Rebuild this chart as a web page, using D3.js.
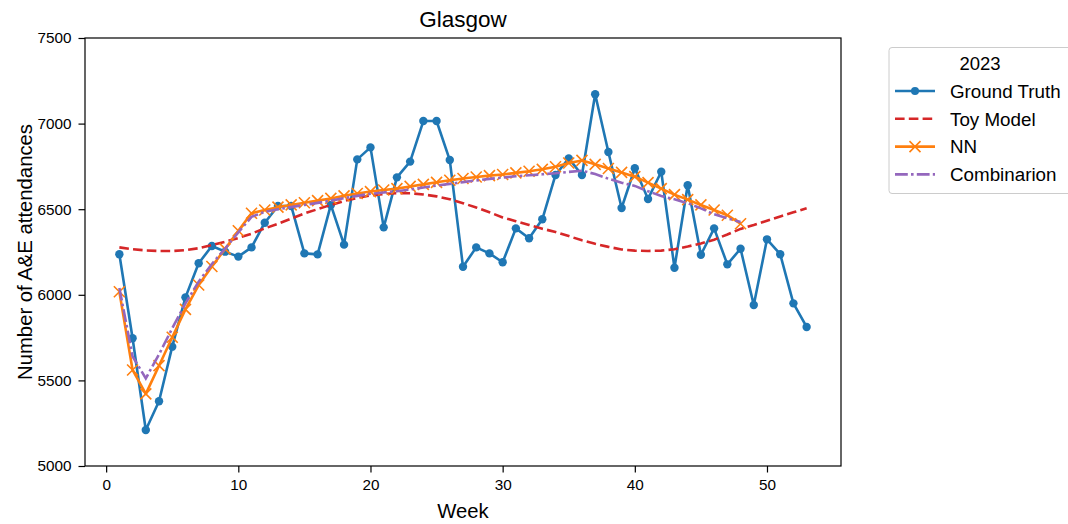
<!DOCTYPE html>
<html>
<head>
<meta charset="utf-8">
<script src="https://cdn.jsdelivr.net/npm/d3@7"></script>
<style>
  body { margin: 0; background: white; }
  text { font-family: "Liberation Sans", Arial, sans-serif; fill: black; }
</style>
</head>
<body>
<div id="viz"></div>
<script>
var width = 1068
var height = 524
var margin = {left: 85, right: 227, top: 38, bottom: 58}

// weekly values
var weeks = d3.range(1, 54)
var groundTruth = [6237, 5746, 5210, 5378, 5697, 5985, 6184, 6285, 6252, 6223,
    6277, 6421, 6519, 6519, 6242, 6236, 6525, 6293, 6791, 6861,
    6394, 6686, 6778, 7015, 7015, 6787, 6164, 6277, 6242, 6190,
    6388, 6330, 6441, 6700, 6797, 6700, 7171, 6834, 6507, 6739,
    6560, 6719, 6158, 6640, 6234, 6388, 6178, 6269, 5940, 6324,
    6237, 5950, 5812]
var toyModel = [6277, 6266, 6259, 6256, 6256, 6261, 6272, 6290, 6310, 6332,
    6357, 6388, 6415, 6445, 6475, 6500, 6525, 6548, 6566, 6580,
    6589, 6593, 6593, 6586, 6575, 6558, 6535, 6510, 6482, 6452,
    6430, 6408, 6386, 6367, 6343, 6318, 6298, 6280, 6265, 6258,
    6256, 6258, 6266, 6282, 6300, 6322, 6352, 6385, 6408, 6433,
    6458, 6482, 6505]
var nn = [6018, 5561, 5421, 5586, 5752, 5915, 6057, 6165, 6268, 6374,
    6476, 6495, 6512, 6525, 6538, 6550, 6563, 6578, 6592, 6603,
    6612, 6620, 6633, 6645, 6657, 6669, 6679, 6688, 6696, 6703,
    6712, 6722, 6733, 6748, 6770, 6785, 6762, 6738, 6715, 6690,
    6655, 6620, 6585, 6556, 6525, 6495, 6465, 6415]
var combination = [6040, 5640, 5512, 5652, 5804, 5950, 6077, 6180, 6270, 6365,
    6455, 6485, 6500, 6512, 6525, 6537, 6550, 6565, 6578, 6590,
    6598, 6605, 6615, 6627, 6638, 6648, 6658, 6668, 6677, 6685,
    6692, 6698, 6704, 6710, 6718, 6725, 6705, 6678, 6655, 6636,
    6605, 6577, 6558, 6535, 6505, 6470, 6447, 6425]
var xTicks = [0, 10, 20, 30, 40, 50]
var yTicks = [5000, 5500, 6000, 6500, 7000, 7500]

var svg = d3.select("#viz").append("svg")
    .attr("width", width)
    .attr("height", height)

var x = d3.scaleLinear().domain([-1.6, 55.6]).range([margin.left, width - margin.right])
var y = d3.scaleLinear().domain([5000, 7500]).range([height - margin.bottom, margin.top])

function toPoints(vals) {
    return vals.map(function (v, i) { return [weeks[i], v] })
}

var line = d3.line().x(function (d) { return x(d[0]) }).y(function (d) { return y(d[1]) })

var plot = svg.append("g")
plot.append("defs").append("clipPath").attr("id", "clip")
    .append("rect")
    .attr("x", margin.left).attr("y", margin.top)
    .attr("width", width - margin.left - margin.right)
    .attr("height", height - margin.top - margin.bottom)

var series = plot.append("g").attr("clip-path", "url(#clip)")

// ground truth
series.append("path")
    .attr("d", line(toPoints(groundTruth)))
    .attr("fill", "none")
    .attr("stroke", "#1f77b4")
    .attr("stroke-width", 2.6)
    .attr("stroke-linejoin", "round")
series.selectAll("circle.gt").data(toPoints(groundTruth)).enter()
    .append("circle")
    .attr("class", "gt")
    .attr("cx", function (d) { return x(d[0]) })
    .attr("cy", function (d) { return y(d[1]) })
    .attr("r", 4.2)
    .attr("fill", "#1f77b4")

// toy model
series.append("path")
    .attr("d", line(toPoints(toyModel)))
    .attr("fill", "none")
    .attr("stroke", "#d62728")
    .attr("stroke-width", 2.6)
    .attr("stroke-dasharray", "9.6,4.2")

// NN
series.append("path")
    .attr("d", line(toPoints(nn)))
    .attr("fill", "none")
    .attr("stroke", "#ff7f0e")
    .attr("stroke-width", 2.6)
    .attr("stroke-linejoin", "round")
var ms = 5.5
series.selectAll("path.nnx").data(toPoints(nn)).enter()
    .append("path")
    .attr("class", "nnx")
    .attr("d", function (d) {
        var cx = x(d[0]), cy = y(d[1])
        return "M" + (cx - ms) + "," + (cy - ms) + "L" + (cx + ms) + "," + (cy + ms) +
            "M" + (cx - ms) + "," + (cy + ms) + "L" + (cx + ms) + "," + (cy - ms)
    })
    .attr("stroke", "#ff7f0e")
    .attr("stroke-width", 1.6)

// combination
series.append("path")
    .attr("d", line(toPoints(combination)))
    .attr("fill", "none")
    .attr("stroke", "#9467bd")
    .attr("stroke-width", 2.6)
    .attr("stroke-dasharray", "12.8,3.2,2.6,3.2")

// axes
var xAxis = plot.append("g")
    .attr("transform", "translate(0," + (height - margin.bottom) + ")")
    .call(d3.axisBottom(x).tickValues(xTicks).tickSize(6.5).tickPadding(7))
var yAxis = plot.append("g")
    .attr("transform", "translate(" + margin.left + ",0)")
    .call(d3.axisLeft(y).tickValues(yTicks).tickSize(6.5).tickPadding(7).tickFormat(d3.format("d")))
;[xAxis, yAxis].forEach(function (a) {
    a.select(".domain").remove()
    a.selectAll("line").attr("stroke", "black").attr("stroke-width", 1.2)
    a.selectAll("text").attr("font-size", 15.3).attr("font-family", "Liberation Sans, Arial, sans-serif").attr("fill", "black")
})

plot.append("rect")
    .attr("x", margin.left).attr("y", margin.top)
    .attr("width", width - margin.left - margin.right)
    .attr("height", height - margin.top - margin.bottom)
    .attr("fill", "none")
    .attr("stroke", "black")
    .attr("stroke-width", 1.2)

// titles
svg.append("text")
    .attr("x", (margin.left + width - margin.right) / 2)
    .attr("y", 26.5)
    .attr("text-anchor", "middle")
    .attr("font-size", 22.5)
    .text("Glasgow")
svg.append("text")
    .attr("x", (margin.left + width - margin.right) / 2)
    .attr("y", 518)
    .attr("text-anchor", "middle")
    .attr("font-size", 20.3)
    .text("Week")
svg.append("text")
    .attr("transform", "translate(32," + ((margin.top + height - margin.bottom) / 2) + ") rotate(-90)")
    .attr("text-anchor", "middle")
    .attr("font-size", 20.3)
    .text("Number of A&E attendances")

// legend
var legend = svg.append("g")
legend.append("rect")
    .attr("x", 889).attr("y", 47.5)
    .attr("width", 200).attr("height", 146)
    .attr("rx", 3)
    .attr("fill", "white")
    .attr("stroke", "#cccccc")
    .attr("stroke-width", 1)
legend.append("text")
    .attr("x", 980).attr("y", 70)
    .attr("text-anchor", "middle")
    .attr("font-size", 18.5)
    .text("2023")

var legendItems = [
    {name: "Ground Truth", color: "#1f77b4", dash: null, marker: "dot"},
    {name: "Toy Model", color: "#d62728", dash: "9.6,4.2", marker: null},
    {name: "NN", color: "#ff7f0e", dash: null, marker: "x"},
    {name: "Combinarion", color: "#9467bd", dash: "12.8,3.2,2.6,3.2", marker: null}
]
legendItems.forEach(function (item, i) {
    var ly = 91 + i * 27.8
    legend.append("line")
        .attr("x1", 895).attr("x2", 935)
        .attr("y1", ly).attr("y2", ly)
        .attr("stroke", item.color)
        .attr("stroke-width", 2.6)
        .attr("stroke-dasharray", item.dash)
    if (item.marker == "dot") {
        legend.append("circle").attr("cx", 915).attr("cy", ly).attr("r", 4).attr("fill", item.color)
    } else if (item.marker == "x") {
        legend.append("path")
            .attr("d", "M" + (915 - ms) + "," + (ly - ms) + "L" + (915 + ms) + "," + (ly + ms) +
                "M" + (915 - ms) + "," + (ly + ms) + "L" + (915 + ms) + "," + (ly - ms))
            .attr("stroke", item.color)
            .attr("stroke-width", 1.6)
    }
    legend.append("text")
        .attr("x", 950).attr("y", ly + 6.8)
        .attr("font-size", 18.8)
        .text(item.name)
})
</script>
</body>
</html>
